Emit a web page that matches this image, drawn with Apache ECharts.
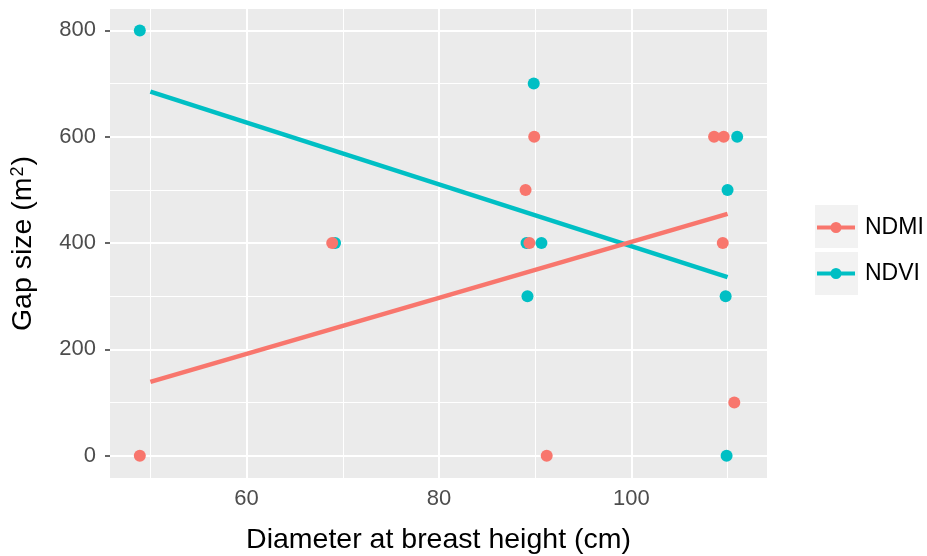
<!DOCTYPE html>
<html>
<head>
<meta charset="utf-8">
<script src="https://cdn.jsdelivr.net/npm/echarts@6/dist/echarts.min.js"></script>
<style>
  html, body { margin: 0; padding: 0; background: #fff; }
  #chart { width: 927px; height: 556px; }
</style>
</head>
<body>
<div id="chart"></div>
<script>
// points
var ndmiX = [48.9, 68.9, 89.0, 89.9, 89.4, 91.2, 108.6, 109.6, 109.5, 110.7];
var ndmiY = [0, 400, 500, 600, 400, 0, 600, 600, 400, 100];
var ndviX = [48.9, 69.2, 89.85, 89.1, 90.65, 89.2, 110.0, 111.0, 109.8, 109.9];
var ndviY = [800, 400, 700, 400, 400, 300, 500, 600, 300, 0];

// fitted lines (ends)
var fitX = [50, 110];
var ndmiFit = [139, 455];
var ndviFit = [685, 336];

var xTicks = [60, 80, 100];
var yTicks = [0, 200, 400, 600, 800];
var xMinor = [50, 70, 90, 110];
var yMinor = [100, 300, 500, 700];

var red = '#F8766D', teal = '#00BFC4';
var font = 'Liberation Sans, Arial, Helvetica, sans-serif';

function pairs(xs, ys) {
  return xs.map(function (x, i) { return [x, ys[i]]; });
}

var gridLines = [];
xMinor.forEach(function (v) { gridLines.push({ xAxis: v, lineStyle: { width: 1 } }); });
yMinor.forEach(function (v) { gridLines.push({ yAxis: v, lineStyle: { width: 1 } }); });
xTicks.forEach(function (v) { gridLines.push({ xAxis: v, lineStyle: { width: 2 } }); });
yTicks.forEach(function (v) { gridLines.push({ yAxis: v, lineStyle: { width: 2 } }); });

var keyIcon = 'path://M0,3.5 L38,3.5 L38,7.5 L0,7.5 Z M13.5,5.5 A5.5,5.5 0 1 1 24.5,5.5 A5.5,5.5 0 1 1 13.5,5.5 Z';

function legendFor(name, top) {
  return {
    data: [name],
    left: 817,
    top: top,
    padding: 0,
    z: 10,
    icon: keyIcon,
    itemWidth: 38,
    itemHeight: 11,
    selectedMode: false,
    itemStyle: { borderWidth: 0 },
    textStyle: { fontFamily: font, fontSize: 23, color: '#000', lineHeight: 22, padding: [0, 0, 0, 5] }
  };
}

var myChart = echarts.init(document.getElementById('chart'));
var option = {
  animation: false,
  backgroundColor: '#fff',
  grid: {
    left: 110, right: 160, top: 9, bottom: 78,
    outerBoundsMode: 'none',
    containLabel: false,
    show: true, backgroundColor: '#EBEBEB', borderWidth: 0
  },
  legend: [legendFor('NDMI', 216), legendFor('NDVI', 262)],
  graphic: [
    { type: 'rect', z: 0, shape: { x: 815, y: 205, width: 43, height: 43 }, style: { fill: '#F2F2F2' } },
    { type: 'rect', z: 0, shape: { x: 815, y: 252, width: 43, height: 43 }, style: { fill: '#F2F2F2' } }
  ],
  xAxis: {
    type: 'value',
    min: 45.8,
    max: 114.1,
    name: 'Diameter at breast height (cm)',
    nameLocation: 'middle',
    nameGap: 48,
    nameTextStyle: { fontFamily: font, fontSize: 28.5, color: '#000' },
    axisLine: { show: false },
    axisTick: { show: true, customValues: xTicks, length: 5, lineStyle: { color: '#333', width: 1.5 } },
    axisLabel: { customValues: xTicks, fontFamily: font, fontSize: 22, color: '#4D4D4D', margin: 10 },
    splitLine: { show: false }
  },
  yAxis: {
    type: 'value',
    min: -42,
    max: 840.3,
    name: '{a|Gap size (m}{s|2}{a|)}',
    nameLocation: 'middle',
    nameRotate: 90,
    nameGap: 72,
    nameTextStyle: {
      fontFamily: font, fontSize: 28.5, color: '#000',
      rich: {
        a: { fontFamily: font, fontSize: 28.5, color: '#000' },
        s: { fontFamily: font, fontSize: 18, color: '#000', verticalAlign: 'top', padding: [0, 1, 0, 1] }
      }
    },
    axisLine: { show: false },
    axisTick: { show: true, customValues: yTicks, length: 5, lineStyle: { color: '#333', width: 1.5 } },
    axisLabel: { customValues: yTicks, fontFamily: font, fontSize: 22, color: '#4D4D4D', margin: 14 },
    splitLine: { show: false }
  },
  series: [
    {
      name: 'NDMI', type: 'scatter', z: 3,
      symbolSize: 12, itemStyle: { color: red, opacity: 1 },
      data: pairs(ndmiX, ndmiY)
    },
    {
      name: 'NDVI', type: 'scatter', z: 2,
      symbolSize: 12, itemStyle: { color: teal, opacity: 1 },
      data: pairs(ndviX, ndviY)
    },
    {
      name: 'grid', type: 'line', data: [], z: 1, silent: true,
      markLine: {
        z: 1,
        silent: true, symbol: 'none', label: { show: false },
        lineStyle: { color: '#fff', type: 'solid' },
        emphasis: { disabled: true },
        data: gridLines
      }
    },
    {
      name: 'NDVI', type: 'line', z: 4, symbol: 'none',
      lineStyle: { color: teal, width: 4.5 },
      data: pairs(fitX, ndviFit)
    },
    {
      name: 'NDMI', type: 'line', z: 4, symbol: 'none',
      lineStyle: { color: red, width: 4.5 },
      data: pairs(fitX, ndmiFit)
    }
  ]
};
myChart.setOption(option);
</script>
</body>
</html>
